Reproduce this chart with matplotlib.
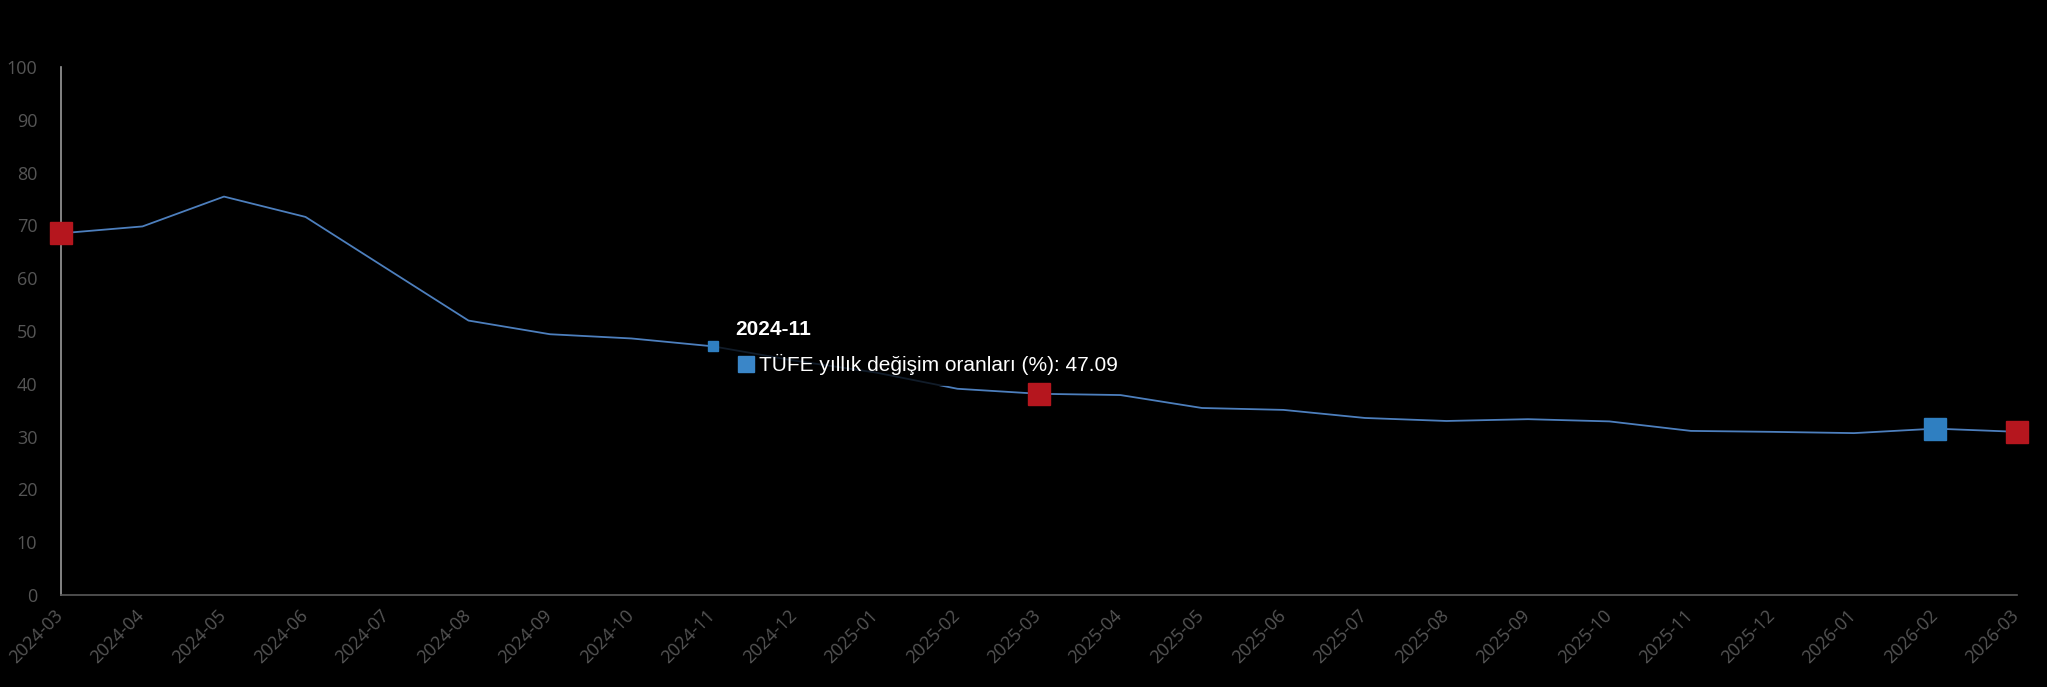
import numpy as np
import matplotlib
matplotlib.use("Agg")
import matplotlib.pyplot as plt
from matplotlib.patches import Rectangle
from matplotlib.transforms import offset_copy, ScaledTranslation

# TÜFE annual change (%), monthly
months = ["2024-03", "2024-04", "2024-05", "2024-06", "2024-07", "2024-08",
          "2024-09", "2024-10", "2024-11", "2024-12", "2025-01", "2025-02",
          "2025-03", "2025-04", "2025-05", "2025-06", "2025-07", "2025-08",
          "2025-09", "2025-10", "2025-11", "2025-12", "2026-01", "2026-02",
          "2026-03"]
tufe = [68.50, 69.80, 75.45, 71.60, 61.78, 51.97, 49.38, 48.58, 47.09, 44.38,
        42.12, 39.05, 38.10, 37.86, 35.41, 35.05, 33.52, 32.95, 33.29, 32.87,
        31.07, 30.89, 30.65, 31.50, 30.90]
red_months = ["2024-03", "2025-03", "2026-03"]
blue_months = ["2026-02"]
hover_month = "2024-11"
series_name = "TÜFE yıllık değişim oranları (%)"

x = np.arange(len(months))
idx = {m: i for i, m in enumerate(months)}

fig = plt.figure(figsize=(20.47, 6.87), dpi=100, facecolor="black")
ax = fig.add_axes([0.0298, 0.134, 0.9555, 0.7685])
ax.set_facecolor("black")
ax.set_xlim(0, len(months) - 1)
ax.set_ylim(0, 100)

ax.plot(x, tufe, color="#4d7fbd", lw=1.3, zorder=2)

rx = [idx[m] for m in red_months]
ax.plot(rx, [tufe[i] for i in rx], ls="none", marker="s", ms=16,
        color="#b5161e", zorder=4, clip_on=False)
bx = [idx[m] for m in blue_months]
ax.plot(bx, [tufe[i] for i in bx], ls="none", marker="s", ms=16,
        color="#2f7fc1", zorder=4, clip_on=False)
hi = idx[hover_month]
ax.plot([hi], [tufe[hi]], ls="none", marker="s", ms=7,
        color="#2f7fc1", zorder=4)

# tooltip box (semi-transparent, dims the line underneath)
px, py = ax.transData.transform((hi, tufe[hi]))
inv = ax.transData.inverted()
(x0, y0), (x1, y1) = inv.transform([(px + 4, py - 40), (px + 414, py + 36)])
ax.add_patch(Rectangle((x0, y0), x1 - x0, y1 - y0, facecolor="black",
                       alpha=0.78, edgecolor="none", zorder=3))

ax.annotate(hover_month, (hi, tufe[hi]), xytext=(22, 17), textcoords="offset pixels",
            color="white", fontsize=15, fontweight="bold", family="Liberation Sans",
            va="center", ha="left", zorder=5)
sq_tr = offset_copy(ax.transData, fig=fig, x=33, y=-18, units="dots")
ax.plot([hi], [tufe[hi]], ls="none", marker="s", ms=11, color="#3a86c8",
        transform=sq_tr, zorder=5)
ax.annotate(f"{series_name}: {tufe[hi]:.2f}", (hi, tufe[hi]), xytext=(46, -18),
            textcoords="offset pixels", color="white", fontsize=15,
            family="Liberation Sans", va="center", ha="left", zorder=5)

ax.set_yticks(np.arange(0, 101, 10))
ax.set_xticks(x)
ax.set_xticklabels(months, rotation=45, ha="right", rotation_mode="anchor")
ax.tick_params(axis="both", length=0, colors="#555555", labelsize=13)
ax.tick_params(axis="y", pad=17)
ax.tick_params(axis="x", pad=8)
shift = ScaledTranslation(-7 / 100, 0, fig.dpi_scale_trans)
for lab in ax.get_xticklabels():
    lab.set_family("Open Sans")
    lab.set_transform(lab.get_transform() + shift)
for lab in ax.get_yticklabels():
    lab.set_family("Open Sans")

for s in ["top", "right"]:
    ax.spines[s].set_visible(False)
ax.spines["left"].set_color("#9a9a9a")
ax.spines["bottom"].set_color("#5a5a5a")
ax.spines["left"].set_linewidth(1.2)
ax.spines["bottom"].set_linewidth(1.2)

fig.savefig("out.png", dpi=100, facecolor="black")
